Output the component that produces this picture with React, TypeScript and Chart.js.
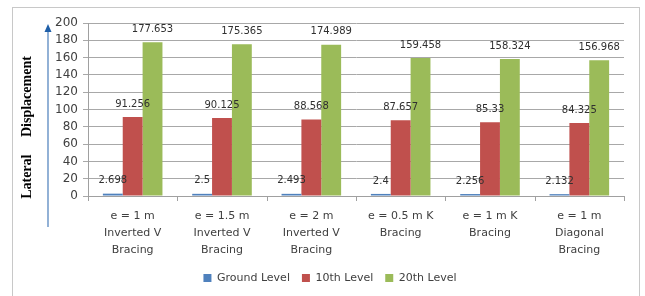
import React, { useEffect, useRef } from "react";
import { Chart, registerables } from "chart.js";

Chart.register(...registerables);

const categories: string[][] = [
  ["e = 1 m", "Inverted V", "Bracing"],
  ["e = 1.5 m", "Inverted V", "Bracing"],
  ["e = 2 m", "Inverted V", "Bracing"],
  ["e = 0.5 m K", "Bracing"],
  ["e = 1 m K", "Bracing"],
  ["e = 1 m", "Diagonal", "Bracing"],
];

const groundLevel = [2.698, 2.5, 2.493, 2.4, 2.256, 2.132];
const level10 = [91.256, 90.125, 88.568, 87.657, 85.33, 84.325];
const level20 = [177.653, 175.365, 174.989, 159.458, 158.324, 156.968];

const seriesNames = ["Ground Level", "10th Level", "20th Level"];
const yTitle = "Lateral     Displacement";

const FONT = "'DejaVu Sans', sans-serif";

const decorPlugin = {
  id: "decor",
  beforeDraw(chart: any) {
    const ctx = chart.ctx;
    ctx.save();
    ctx.fillStyle = "#ffffff";
    ctx.fillRect(0, 0, chart.width, chart.height);
    ctx.strokeStyle = "#c8c8c8";
    ctx.lineWidth = 1;
    ctx.strokeRect(12.5, 7.5, 627, 320);
    ctx.restore();
  },
  afterDraw(chart: any) {
    const ctx = chart.ctx;
    // short tick marks at the category boundaries, below the x axis
    const xs = chart.scales.x;
    const n = chart.data.labels.length;
    ctx.save();
    ctx.strokeStyle = "#a0a0a0";
    ctx.lineWidth = 1;
    ctx.beginPath();
    for (let i = 0; i <= n; i++) {
      const x = Math.round(xs.left + (xs.width * i) / n) + 0.5;
      ctx.moveTo(x, xs.top);
      ctx.lineTo(x, xs.top + 5);
    }
    ctx.stroke();
    ctx.restore();
    // y axis title
    ctx.save();
    ctx.translate(27, 127.5);
    ctx.rotate(-Math.PI / 2);
    ctx.font = "bold 14px 'Liberation Serif', serif";
    ctx.fillStyle = "#000000";
    ctx.textAlign = "center";
    ctx.textBaseline = "middle";
    ctx.fillText(yTitle, 0, 0);
    ctx.restore();
    // arrow
    ctx.save();
    ctx.strokeStyle = "#4a7ebb";
    ctx.fillStyle = "#1f5fa8";
    ctx.lineWidth = 1.2;
    ctx.beginPath();
    ctx.moveTo(48, 227);
    ctx.lineTo(48, 31);
    ctx.stroke();
    ctx.beginPath();
    ctx.moveTo(48, 24);
    ctx.lineTo(44.5, 32);
    ctx.lineTo(51.5, 32);
    ctx.closePath();
    ctx.fill();
    ctx.restore();
  },
  afterDatasetsDraw(chart: any) {
    const ctx = chart.ctx;
    ctx.save();
    ctx.font = `10px ${FONT}`;
    ctx.fillStyle = "#303030";
    ctx.textAlign = "center";
    ctx.textBaseline = "middle";
    chart.data.datasets.forEach((ds: any, i: number) => {
      const meta = chart.getDatasetMeta(i);
      meta.data.forEach((el: any, j: number) => {
        ctx.fillText(String(ds.data[j]), el.x, el.y - 13);
      });
    });
    ctx.restore();
  },
};

export default function App() {
  const ref = useRef<HTMLCanvasElement | null>(null);
  useEffect(() => {
    if (!ref.current) return;
    const chart = new Chart(ref.current, {
      type: "bar",
      data: {
        labels: categories,
        datasets: [
          { label: seriesNames[0], data: groundLevel, backgroundColor: "#4F81BD" },
          { label: seriesNames[1], data: level10, backgroundColor: "#C0504D" },
          { label: seriesNames[2], data: level20, backgroundColor: "#9BBB59" },
        ],
      },
      options: {
        responsive: false,
        animation: false,
        layout: { padding: { left: 36, right: 21, top: 23, bottom: 2.5 } },
        datasets: {
          bar: { categoryPercentage: 0.667, barPercentage: 1 },
        },
        plugins: {
          legend: {
            position: "bottom",
            labels: {
              boxWidth: 8,
              boxHeight: 8,
              padding: 12,
              color: "#404040",
              font: { family: FONT, size: 11 },
            },
          },
          tooltip: { enabled: false },
        },
        scales: {
          x: {
            afterFit: (s: any) => {
              s.height = 64.5;
            },
            grid: { display: false, drawTicks: false },
            border: { display: true, color: "#a0a0a0" },
            ticks: {
              color: "#404040",
              padding: 12,
              maxRotation: 0,
              autoSkip: false,
              font: { family: FONT, size: 11, lineHeight: 1.55 },
            },
          },
          y: {
            min: 0,
            max: 200,
            afterFit: (s: any) => {
              s.width = 52;
            },
            ticks: {
              stepSize: 20,
              autoSkip: false,
              color: "#404040",
              padding: 5,
              font: { family: FONT, size: 12 },
            },
            grid: { color: "#a8a8a8", tickLength: 5 },
            border: { display: true, color: "#a0a0a0" },
          },
        },
      },
      plugins: [decorPlugin],
    });
    return () => chart.destroy();
  }, []);
  return (
    <div style={{ position: "fixed", left: 0, top: 0, width: 645, height: 296, background: "#fff" }}>
      <canvas ref={ref} width={645} height={296} style={{ display: "block" }} />
    </div>
  );
}
